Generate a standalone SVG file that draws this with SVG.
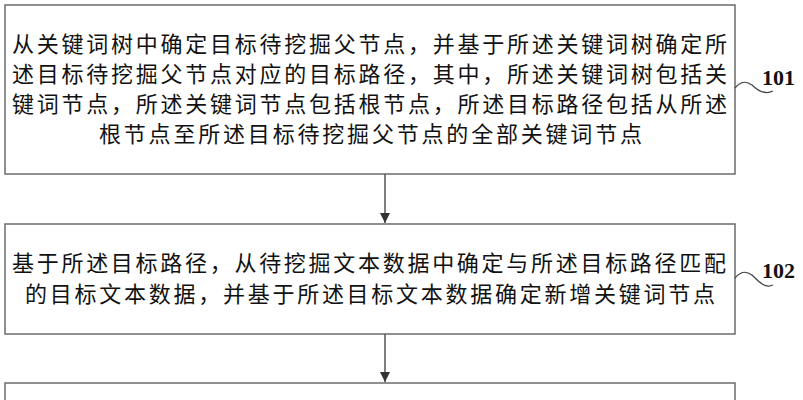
<svg xmlns="http://www.w3.org/2000/svg" width="803" height="400" viewBox="0 0 803 400">
<defs>
<style>
.box{fill:#fff;stroke:#6b6b6b;stroke-width:1.5}
.t{font-family:"Noto Sans CJK SC","Noto Sans CJK JP",sans-serif;font-size:22px;fill:#111}
.lbl{font-family:"Liberation Serif","Times New Roman",serif;font-size:22px;font-weight:bold;fill:#111}
.conn{stroke:#555;stroke-width:1.5;fill:none}
.wave{stroke:#444;stroke-width:1.2;fill:none}
</style>
<marker id="ah" viewBox="0 0 10 10" refX="10" refY="5" markerWidth="10" markerHeight="10" markerUnits="userSpaceOnUse" orient="auto">
<path d="M0,0 L10,5 L0,10 z" fill="#333"/>
</marker>
</defs>
<rect width="803" height="400" fill="#fff"/>
<g id="node101">
<rect class="box" x="5" y="5" width="730" height="169"/>
<text class="t" x="12" y="52" textLength="715" lengthAdjust="spacing">从关键词树中确定目标待挖掘父节点，并基于所述关键词树确定所</text>
<text class="t" x="12" y="82" textLength="715" lengthAdjust="spacing">述目标待挖掘父节点对应的目标路径，其中，所述关键词树包括关</text>
<text class="t" x="12" y="112" textLength="715" lengthAdjust="spacing">键词节点，所述关键词节点包括根节点，所述目标路径包括从所述</text>
<text class="t" x="99" y="142" textLength="543" lengthAdjust="spacing">根节点至所述目标待挖掘父节点的全部关键词节点</text>
<path class="wave" d="M735,88 C740,82 745,80 752,85 C758,91 765,95 773,91"/>
<text class="lbl" x="762" y="85">101</text>
</g>
<g id="node102">
<rect class="box" x="5" y="224" width="730" height="110"/>
<text class="t" x="12" y="271" textLength="714" lengthAdjust="spacing">基于所述目标路径，从待挖掘文本数据中确定与所述目标路径匹配</text>
<text class="t" x="25" y="302" textLength="690" lengthAdjust="spacing">的目标文本数据，并基于所述目标文本数据确定新增关键词节点</text>
<path class="wave" d="M735,278 C740,272 745,270 752,275 C758,281 765,289 773,285"/>
<text class="lbl" x="762" y="278">102</text>
</g>
<g id="node103">
<rect class="box" x="5" y="383" width="730" height="40"/>
</g>
<g id="connectors">
<line class="conn" x1="385" y1="174" x2="385" y2="223" marker-end="url(#ah)"/>
<line class="conn" x1="385" y1="334" x2="385" y2="382" marker-end="url(#ah)"/>
</g>
</svg>
